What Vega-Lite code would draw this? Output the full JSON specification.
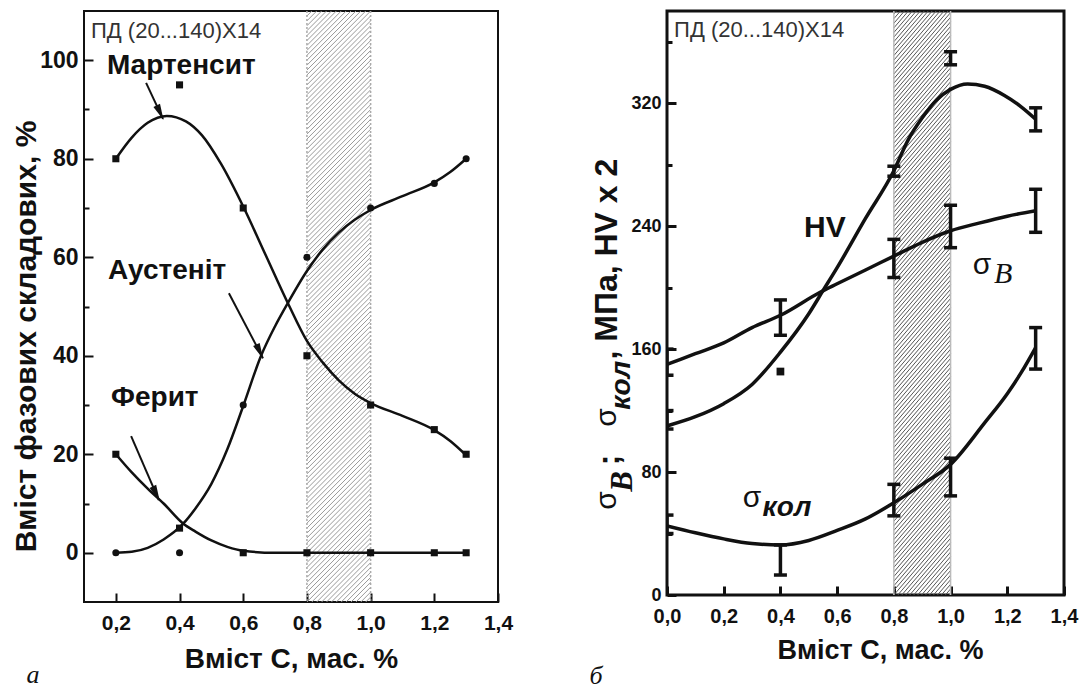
{
  "$schema": "https://vega.github.io/schema/vega-lite/v6.json",
  "background": "white",
  "padding": {"left": 9, "top": 8, "right": 0, "bottom": 0},
  "config": {
    "font": "Liberation Sans",
    "axis": {"domain": false, "grid": false, "labelFont": "Liberation Sans", "labelFontWeight": "bold", "labelColor": "#111", "titleFont": "Liberation Sans", "titleFontWeight": "bold", "titleColor": "#111", "tickColor": "#111", "labelFlush": false, "labelOverlap": false},
    "text": {"font": "Liberation Sans"}
  },
  "spacing": 169,
  "bounds": "flush",
  "hconcat": [
    {
      "width": 414,
      "height": 591,
      "view": {"stroke": "#111", "strokeWidth": 2},
      "layer": [
        {
          "data": {"values": [{"h": [-23,-22,-21,-20,-19,-18,-17,-16,-15,-14,-13,-12,-11,-10,-9,-8,-7,-6,-5,-4,-3,-2,-1,0,1,2,3,4,5,6,7,8,9,10,11,12,13,14,15,16,17,18,19,20,21,22,23,24,25,26,27,28,29,30,31,32,33,34,35,36,37,38,39,40,41,42,43,44,45,46,47,48,49,50,51,52,53,54,55,56,57,58,59,60,61,62,63,64,65,66,67,68,69,70,71,72,73,74,75,76,77,78,79,80,81,82,83,84,85,86,87,88,89,90,91,92,93,94,95,96,97,98,99,100,101,102,103,104,105,106,107,108,109,110]}]},
          "transform": [{"flatten": ["h"]}],
          "mark": {"type": "rule", "clip": true, "color": "#9a9a9a", "strokeWidth": 1, "y2Offset": -64},
          "encoding": {
            "x": {"datum": 0.8, "type": "quantitative",
              "scale": {"domain": [0.1, 1.4], "nice": false, "zero": false},
              "axis": {"values": [0.2,0.3,0.4,0.5,0.6,0.7,0.8,0.9,1.0,1.1,1.2,1.3,1.4],
                "labelExpr": "round(datum.value*10)%2==0 ? replace(format(datum.value,'.1f'),'.',',') : ''",
                "tickSize": {"condition": {"test": "round(datum.value*10)%2==0", "value": -9}, "value": -5},
                "tickWidth": 2,
                "labelFontSize": 21, "labelPadding": 19,
                "title": "Вміст С, мас. %", "titleFontSize": 28, "titleY": 57, "titleBaseline": "middle"}},
            "x2": {"datum": 1.0},
            "y": {"field": "h", "type": "quantitative",
              "scale": {"domain": [-10, 110], "nice": false, "zero": false},
              "axis": {"values": [0,10,20,30,40,50,60,70,80,90,100],
                "labelExpr": "datum.value%20==0 ? datum.label : ''",
                "tickSize": {"condition": {"test": "datum.value%20==0", "value": -9}, "value": -5},
                "tickWidth": 2,
                "labelFontSize": 23, "labelPadding": 15,
                "title": "Вміст фазових складових, %", "titleFontSize": 30,
                "titleAngle": 270, "titleBaseline": "middle", "titleAlign": "center", "titleX": -58, "titleY": 325}},
            "y2": {"field": "h"}
          }
        },
        {
          "data": {"values": [{"e": 0.8}, {"e": 1.0}]},
          "mark": {"type": "rule", "color": "#aaa", "strokeWidth": 1.5, "strokeDash": [2, 2]},
          "encoding": {"x": {"field": "e", "type": "quantitative"}}
        },
        {
          "data": {"values": [
            {"s": "Мартенсит", "x": 0.2, "y": 80}, {"s": "Мартенсит", "x": 0.25, "y": 84.3}, {"s": "Мартенсит", "x": 0.3, "y": 87.3}, {"s": "Мартенсит", "x": 0.36, "y": 88.7}, {"s": "Мартенсит", "x": 0.42, "y": 87.6}, {"s": "Мартенсит", "x": 0.47, "y": 84.8}, {"s": "Мартенсит", "x": 0.53, "y": 79}, {"s": "Мартенсит", "x": 0.6, "y": 70.3}, {"s": "Мартенсит", "x": 0.67, "y": 60.5}, {"s": "Мартенсит", "x": 0.74, "y": 50.7}, {"s": "Мартенсит", "x": 0.8, "y": 43}, {"s": "Мартенсит", "x": 0.85, "y": 38.6}, {"s": "Мартенсит", "x": 0.9, "y": 35}, {"s": "Мартенсит", "x": 0.95, "y": 32.3}, {"s": "Мартенсит", "x": 1.0, "y": 30.4}, {"s": "Мартенсит", "x": 1.1, "y": 27.8}, {"s": "Мартенсит", "x": 1.2, "y": 24.9}, {"s": "Мартенсит", "x": 1.25, "y": 22.7}, {"s": "Мартенсит", "x": 1.3, "y": 19.8},
            {"s": "Аустеніт", "x": 0.2, "y": 0}, {"s": "Аустеніт", "x": 0.25, "y": 0.2}, {"s": "Аустеніт", "x": 0.3, "y": 1}, {"s": "Аустеніт", "x": 0.35, "y": 2.7}, {"s": "Аустеніт", "x": 0.41, "y": 5.8}, {"s": "Аустеніт", "x": 0.45, "y": 9}, {"s": "Аустеніт", "x": 0.5, "y": 14}, {"s": "Аустеніт", "x": 0.55, "y": 21}, {"s": "Аустеніт", "x": 0.6, "y": 29.8}, {"s": "Аустеніт", "x": 0.656, "y": 40}, {"s": "Аустеніт", "x": 0.7, "y": 46}, {"s": "Аустеніт", "x": 0.74, "y": 50.7}, {"s": "Аустеніт", "x": 0.8, "y": 57.2}, {"s": "Аустеніт", "x": 0.85, "y": 61.6}, {"s": "Аустеніт", "x": 0.9, "y": 65}, {"s": "Аустеніт", "x": 0.95, "y": 67.6}, {"s": "Аустеніт", "x": 1.0, "y": 69.6}, {"s": "Аустеніт", "x": 1.1, "y": 72.4}, {"s": "Аустеніт", "x": 1.2, "y": 75.2}, {"s": "Аустеніт", "x": 1.25, "y": 77.3}, {"s": "Аустеніт", "x": 1.3, "y": 80},
            {"s": "Ферит", "x": 0.2, "y": 20}, {"s": "Ферит", "x": 0.25, "y": 16.3}, {"s": "Ферит", "x": 0.3, "y": 13}, {"s": "Ферит", "x": 0.35, "y": 10}, {"s": "Ферит", "x": 0.41, "y": 6}, {"s": "Ферит", "x": 0.45, "y": 4.3}, {"s": "Ферит", "x": 0.5, "y": 2.5}, {"s": "Ферит", "x": 0.55, "y": 1.2}, {"s": "Ферит", "x": 0.6, "y": 0.4}, {"s": "Ферит", "x": 0.7, "y": 0}, {"s": "Ферит", "x": 0.8, "y": 0}, {"s": "Ферит", "x": 1.0, "y": 0}, {"s": "Ферит", "x": 1.2, "y": 0}, {"s": "Ферит", "x": 1.3, "y": 0}
          ]},
          "mark": {"type": "line", "interpolate": "monotone", "color": "#111", "strokeWidth": 2.5, "clip": true},
          "encoding": {
            "x": {"field": "x", "type": "quantitative"},
            "y": {"field": "y", "type": "quantitative"},
            "detail": {"field": "s"}
          }
        },
        {
          "data": {"values": [
            {"s": "Мартенсит", "x": 0.2, "y": 80}, {"s": "Мартенсит", "x": 0.4, "y": 95}, {"s": "Мартенсит", "x": 0.6, "y": 70}, {"s": "Мартенсит", "x": 0.8, "y": 40}, {"s": "Мартенсит", "x": 1.0, "y": 30}, {"s": "Мартенсит", "x": 1.2, "y": 25}, {"s": "Мартенсит", "x": 1.3, "y": 20},
            {"s": "Ферит", "x": 0.2, "y": 20}, {"s": "Ферит", "x": 0.4, "y": 5}, {"s": "Ферит", "x": 0.6, "y": 0}, {"s": "Ферит", "x": 0.8, "y": 0}, {"s": "Ферит", "x": 1.0, "y": 0}, {"s": "Ферит", "x": 1.2, "y": 0}, {"s": "Ферит", "x": 1.3, "y": 0},
            {"s": "Аустеніт", "x": 0.2, "y": 0}, {"s": "Аустеніт", "x": 0.4, "y": 0}, {"s": "Аустеніт", "x": 0.6, "y": 30}, {"s": "Аустеніт", "x": 0.8, "y": 60}, {"s": "Аустеніт", "x": 1.0, "y": 70}, {"s": "Аустеніт", "x": 1.2, "y": 75}, {"s": "Аустеніт", "x": 1.3, "y": 80}
          ]},
          "mark": {"type": "point", "filled": true, "color": "#111", "size": 50, "opacity": 1},
          "encoding": {
            "x": {"field": "x", "type": "quantitative"},
            "y": {"field": "y", "type": "quantitative"},
            "shape": {"field": "s", "type": "nominal", "scale": {"domain": ["Мартенсит", "Аустеніт", "Ферит"], "range": ["square", "circle", "square"]}, "legend": null}
          }
        },
        {
          "data": {"values": [
            {"x": 0.295, "y": 95.4, "x2": 0.348, "y2": 88.1},
            {"x": 0.555, "y": 52.7, "x2": 0.662, "y2": 39.5},
            {"x": 0.248, "y": 23.7, "x2": 0.335, "y2": 10.7}
          ]},
          "mark": {"type": "rule", "color": "#111", "strokeWidth": 2},
          "encoding": {
            "x": {"field": "x", "type": "quantitative"},
            "y": {"field": "y", "type": "quantitative"},
            "x2": {"field": "x2"},
            "y2": {"field": "y2"}
          }
        },
        {
          "data": {"values": [
            {"x": 0.339, "y": 89.35},
            {"x": 0.652, "y": 40.8},
            {"x": 0.327, "y": 12.0}
          ]},
          "mark": {"type": "point", "filled": true, "color": "#111", "opacity": 1, "size": 260, "angle": 155, "shape": "M0,-1L0.45,1L-0.45,1Z"},
          "encoding": {
            "x": {"field": "x", "type": "quantitative"},
            "y": {"field": "y", "type": "quantitative"}
          }
        },
        {
          "data": {"values": [
            {"x": 0.172, "y": 98.8, "t": "Мартенсит"},
            {"x": 0.175, "y": 57.2, "t": "Аустеніт"},
            {"x": 0.185, "y": 31.4, "t": "Ферит"}
          ]},
          "mark": {"type": "text", "fontWeight": "bold", "fontSize": 28, "align": "left", "baseline": "middle", "color": "#111"},
          "encoding": {
            "x": {"field": "x", "type": "quantitative"},
            "y": {"field": "y", "type": "quantitative"},
            "text": {"field": "t"}
          }
        },
        {
          "data": {"values": [{"x": 0.122, "y": 105.9, "t": "ПД (20...140)Х14"}]},
          "mark": {"type": "text", "fontSize": 22, "align": "left", "baseline": "middle", "color": "#333"},
          "encoding": {
            "x": {"field": "x", "type": "quantitative"},
            "y": {"field": "y", "type": "quantitative"},
            "text": {"field": "t"}
          }
        },
        {
          "data": {"values": [{"x": -0.06, "y": -26.4, "t": "а"}]},
          "mark": {"type": "text", "font": "Liberation Serif", "fontStyle": "italic", "fontSize": 26, "align": "center", "baseline": "alphabetic", "color": "#111"},
          "encoding": {
            "x": {"field": "x", "type": "quantitative"},
            "y": {"field": "y", "type": "quantitative"},
            "text": {"field": "t"}
          }
        }
      ]
    },
    {
      "width": 397,
      "height": 584,
      "view": {"stroke": "#111", "strokeWidth": 3},
      "layer": [
        {
          "data": {"values": [{"h": [-45,-42,-39,-36,-33,-30,-27,-24,-21,-18,-15,-12,-9,-6,-3,0,3,6,9,12,15,18,21,24,27,30,33,36,39,42,45,48,51,54,57,60,63,66,69,72,75,78,81,84,87,90,93,96,99,102,105,108,111,114,117,120,123,126,129,132,135,138,141,144,147,150,153,156,159,162,165,168,171,174,177,180,183,186,189,192,195,198,201,204,207,210,213,216,219,222,225,228,231,234,237,240,243,246,249,252,255,258,261,264,267,270,273,276,279,282,285,288,291,294,297,300,303,306,309,312,315,318,321,324,327,330,333,336,339,342,345,348,351,354,357,360,363,366,369,372,375,378]}]},
          "transform": [{"flatten": ["h"]}],
          "mark": {"type": "rule", "clip": true, "color": "#555", "strokeWidth": 1, "y2Offset": -66},
          "encoding": {
            "x": {"datum": 0.8, "type": "quantitative",
              "scale": {"domain": [0, 1.4], "nice": false, "zero": false},
              "axis": {"values": [0,0.1,0.2,0.3,0.4,0.5,0.6,0.7,0.8,0.9,1.0,1.1,1.2,1.3,1.4],
                "labelExpr": "round(datum.value*10)%2==0 ? replace(format(datum.value,'.1f'),'.',',') : ''",
                "tickSize": {"condition": {"test": "round(datum.value*10)%2==0", "value": -9}, "value": -5},
                "tickWidth": 3,
                "labelFontSize": 20, "labelPadding": 20,
                "title": "Вміст С, мас. %", "titleFontSize": 27, "titleX": 213, "titleY": 55, "titleBaseline": "middle"}},
            "x2": {"datum": 1.0},
            "y": {"field": "h", "type": "quantitative",
              "scale": {"domain": [0, 380], "nice": false, "zero": false},
              "axis": {"values": [0,40,80,120,160,200,240,280,320,360],
                "labelExpr": "datum.value%80==0 ? datum.label : ''",
                "tickSize": {"condition": {"test": "datum.value%80==0", "value": -9}, "value": -5},
                "tickWidth": 3,
                "labelFontSize": 18, "labelPadding": 15,
                "title": null}},
            "y2": {"field": "h"}
          }
        },
        {
          "data": {"values": [{"e": 0.8}, {"e": 1.0}]},
          "mark": {"type": "rule", "color": "#bbb", "strokeWidth": 1.5},
          "encoding": {"x": {"field": "e", "type": "quantitative"}}
        },
        {
          "data": {"values": [
            {"s": "HV", "x": 0.0, "y": 110}, {"s": "HV", "x": 0.1, "y": 116}, {"s": "HV", "x": 0.2, "y": 124.5}, {"s": "HV", "x": 0.3, "y": 137}, {"s": "HV", "x": 0.4, "y": 158}, {"s": "HV", "x": 0.5, "y": 183}, {"s": "HV", "x": 0.55, "y": 198}, {"s": "HV", "x": 0.6, "y": 213}, {"s": "HV", "x": 0.7, "y": 245}, {"s": "HV", "x": 0.8, "y": 276}, {"s": "HV", "x": 0.85, "y": 296}, {"s": "HV", "x": 0.9, "y": 310.5}, {"s": "HV", "x": 0.95, "y": 322}, {"s": "HV", "x": 1.0, "y": 329}, {"s": "HV", "x": 1.06, "y": 332.5}, {"s": "HV", "x": 1.12, "y": 331}, {"s": "HV", "x": 1.19, "y": 325}, {"s": "HV", "x": 1.25, "y": 317.5}, {"s": "HV", "x": 1.3, "y": 309.6},
            {"s": "σB", "x": 0.0, "y": 150}, {"s": "σB", "x": 0.1, "y": 157}, {"s": "σB", "x": 0.2, "y": 164}, {"s": "σB", "x": 0.3, "y": 174}, {"s": "σB", "x": 0.4, "y": 182}, {"s": "σB", "x": 0.54, "y": 197}, {"s": "σB", "x": 0.6, "y": 202.5}, {"s": "σB", "x": 0.7, "y": 211.5}, {"s": "σB", "x": 0.8, "y": 220.5}, {"s": "σB", "x": 0.9, "y": 229.5}, {"s": "σB", "x": 1.0, "y": 237}, {"s": "σB", "x": 1.1, "y": 242}, {"s": "σB", "x": 1.2, "y": 246.5}, {"s": "σB", "x": 1.3, "y": 250},
            {"s": "σкол", "x": 0.0, "y": 45}, {"s": "σкол", "x": 0.1, "y": 40.5}, {"s": "σкол", "x": 0.2, "y": 36.5}, {"s": "σкол", "x": 0.3, "y": 33.5}, {"s": "σкол", "x": 0.4, "y": 32.6}, {"s": "σкол", "x": 0.5, "y": 35.5}, {"s": "σкол", "x": 0.6, "y": 42}, {"s": "σкол", "x": 0.7, "y": 49.5}, {"s": "σкол", "x": 0.8, "y": 60}, {"s": "σкол", "x": 0.9, "y": 72}, {"s": "σкол", "x": 1.0, "y": 85}, {"s": "σкол", "x": 1.12, "y": 112}, {"s": "σкол", "x": 1.2, "y": 131}, {"s": "σкол", "x": 1.25, "y": 145}, {"s": "σкол", "x": 1.3, "y": 161}
          ]},
          "mark": {"type": "line", "interpolate": "monotone", "color": "#111", "strokeWidth": 3.5, "clip": true},
          "encoding": {
            "x": {"field": "x", "type": "quantitative"},
            "y": {"field": "y", "type": "quantitative"},
            "detail": {"field": "s"}
          }
        },
        {
          "data": {"name": "err", "values": [
            {"s": "σB", "x": 0.0, "lo": 143, "hi": 160}, {"s": "σB", "x": 0.4, "lo": 169, "hi": 192}, {"s": "σB", "x": 0.8, "lo": 206.6, "hi": 231.4}, {"s": "σB", "x": 1.0, "lo": 226, "hi": 253.6}, {"s": "σB", "x": 1.3, "lo": 236, "hi": 264},
            {"s": "HV", "x": 0.0, "lo": 108, "hi": 120}, {"s": "HV", "x": 0.8, "lo": 272.5, "hi": 279}, {"s": "HV", "x": 1.0, "lo": 345, "hi": 353.5}, {"s": "HV", "x": 1.3, "lo": 302, "hi": 317},
            {"s": "σкол", "x": 0.0, "lo": 40, "hi": 52}, {"s": "σкол", "x": 0.4, "lo": 13, "hi": 32.6}, {"s": "σкол", "x": 0.8, "lo": 51.5, "hi": 72}, {"s": "σкол", "x": 1.0, "lo": 64.5, "hi": 89}, {"s": "σкол", "x": 1.3, "lo": 147, "hi": 174}
          ]},
          "layer": [
            {
              "mark": {"type": "rule", "color": "#111", "strokeWidth": 3.5, "clip": true},
              "encoding": {
                "x": {"field": "x", "type": "quantitative"},
                "y": {"field": "lo", "type": "quantitative"},
                "y2": {"field": "hi"}
              }
            },
            {
              "mark": {"type": "tick", "orient": "horizontal", "color": "#111", "size": 13, "thickness": 3.5, "clip": true, "opacity": 1},
              "encoding": {
                "x": {"field": "x", "type": "quantitative"},
                "y": {"field": "lo", "type": "quantitative"}
              }
            },
            {
              "mark": {"type": "tick", "orient": "horizontal", "color": "#111", "size": 13, "thickness": 3.5, "clip": true, "opacity": 1},
              "encoding": {
                "x": {"field": "x", "type": "quantitative"},
                "y": {"field": "hi", "type": "quantitative"}
              }
            }
          ]
        },
        {
          "data": {"values": [{"s": "HV", "x": 0.4, "y": 145.4}]},
          "mark": {"type": "point", "shape": "square", "filled": true, "color": "#111", "size": 60, "opacity": 1},
          "encoding": {
            "x": {"field": "x", "type": "quantitative"},
            "y": {"field": "y", "type": "quantitative"}
          }
        },
        {
          "data": {"values": [{"x": 0.025, "y": 367.7, "t": "ПД (20...140)Х14"}]},
          "mark": {"type": "text", "fontSize": 22, "align": "left", "baseline": "middle", "color": "#333"},
          "encoding": {
            "x": {"field": "x", "type": "quantitative"},
            "y": {"field": "y", "type": "quantitative"},
            "text": {"field": "t"}
          }
        },
        {
          "data": {"values": [{"x": 0.557, "y": 238.6, "t": "HV"}]},
          "mark": {"type": "text", "fontWeight": "bold", "fontSize": 30, "align": "center", "baseline": "middle", "color": "#111"},
          "encoding": {
            "x": {"field": "x", "type": "quantitative"},
            "y": {"field": "y", "type": "quantitative"},
            "text": {"field": "t"}
          }
        },
        {
          "data": {"values": [{"x": 1.111, "y": 214.5, "t": "σ"}, {"x": 0.3, "y": 63.2, "t": "σ"}]},
          "mark": {"type": "text", "fontSize": 30, "align": "center", "baseline": "middle", "color": "#111"},
          "encoding": {
            "x": {"field": "x", "type": "quantitative"},
            "y": {"field": "y", "type": "quantitative"},
            "text": {"field": "t"}
          }
        },
        {
          "data": {"values": [{"x": 1.185, "y": 208.6, "t": "B"}]},
          "mark": {"type": "text", "font": "Liberation Serif", "fontStyle": "italic", "fontSize": 30, "align": "center", "baseline": "middle", "color": "#111"},
          "encoding": {
            "x": {"field": "x", "type": "quantitative"},
            "y": {"field": "y", "type": "quantitative"},
            "text": {"field": "t"}
          }
        },
        {
          "data": {"values": [{"x": 0.423, "y": 56.7, "t": "кол"}]},
          "mark": {"type": "text", "fontWeight": "bold", "fontStyle": "italic", "fontSize": 28, "align": "center", "baseline": "middle", "color": "#111"},
          "encoding": {
            "x": {"field": "x", "type": "quantitative"},
            "y": {"field": "y", "type": "quantitative"},
            "text": {"field": "t"}
          }
        },
        {
          "data": {"values": [{"x": -0.212, "y": 55.4, "t": "σ"}, {"x": -0.212, "y": 109.5, "t": "σ"}]},
          "mark": {"type": "text", "fontSize": 30, "angle": 270, "align": "left", "baseline": "middle", "color": "#111"},
          "encoding": {
            "x": {"field": "x", "type": "quantitative"},
            "y": {"field": "y", "type": "quantitative"},
            "text": {"field": "t"}
          }
        },
        {
          "data": {"values": [{"x": -0.155, "y": 67.2, "t": "B"}]},
          "mark": {"type": "text", "font": "Liberation Serif", "fontWeight": "bold", "fontStyle": "italic", "fontSize": 31, "angle": 270, "align": "left", "baseline": "middle", "color": "#111"},
          "encoding": {
            "x": {"field": "x", "type": "quantitative"},
            "y": {"field": "y", "type": "quantitative"},
            "text": {"field": "t"}
          }
        },
        {
          "data": {"values": [{"x": -0.159, "y": 120.6, "t": "кол"}]},
          "mark": {"type": "text", "fontWeight": "bold", "fontStyle": "italic", "fontSize": 28, "angle": 270, "align": "left", "baseline": "middle", "color": "#111"},
          "encoding": {
            "x": {"field": "x", "type": "quantitative"},
            "y": {"field": "y", "type": "quantitative"},
            "text": {"field": "t"}
          }
        },
        {
          "data": {"values": [{"x": -0.205, "y": 84.5, "t": ";"}, {"x": -0.212, "y": 153.2, "t": ", МПа, HV x 2"}]},
          "mark": {"type": "text", "fontWeight": "bold", "fontSize": 32, "angle": 270, "align": "left", "baseline": "middle", "color": "#111"},
          "encoding": {
            "x": {"field": "x", "type": "quantitative"},
            "y": {"field": "y", "type": "quantitative"},
            "text": {"field": "t"}
          }
        },
        {
          "data": {"values": [{"x": -0.25, "y": -58, "t": "б"}]},
          "mark": {"type": "text", "font": "Liberation Serif", "fontStyle": "italic", "fontSize": 26, "align": "center", "baseline": "alphabetic", "color": "#111"},
          "encoding": {
            "x": {"field": "x", "type": "quantitative"},
            "y": {"field": "y", "type": "quantitative"},
            "text": {"field": "t"}
          }
        }
      ]
    }
  ]
}
